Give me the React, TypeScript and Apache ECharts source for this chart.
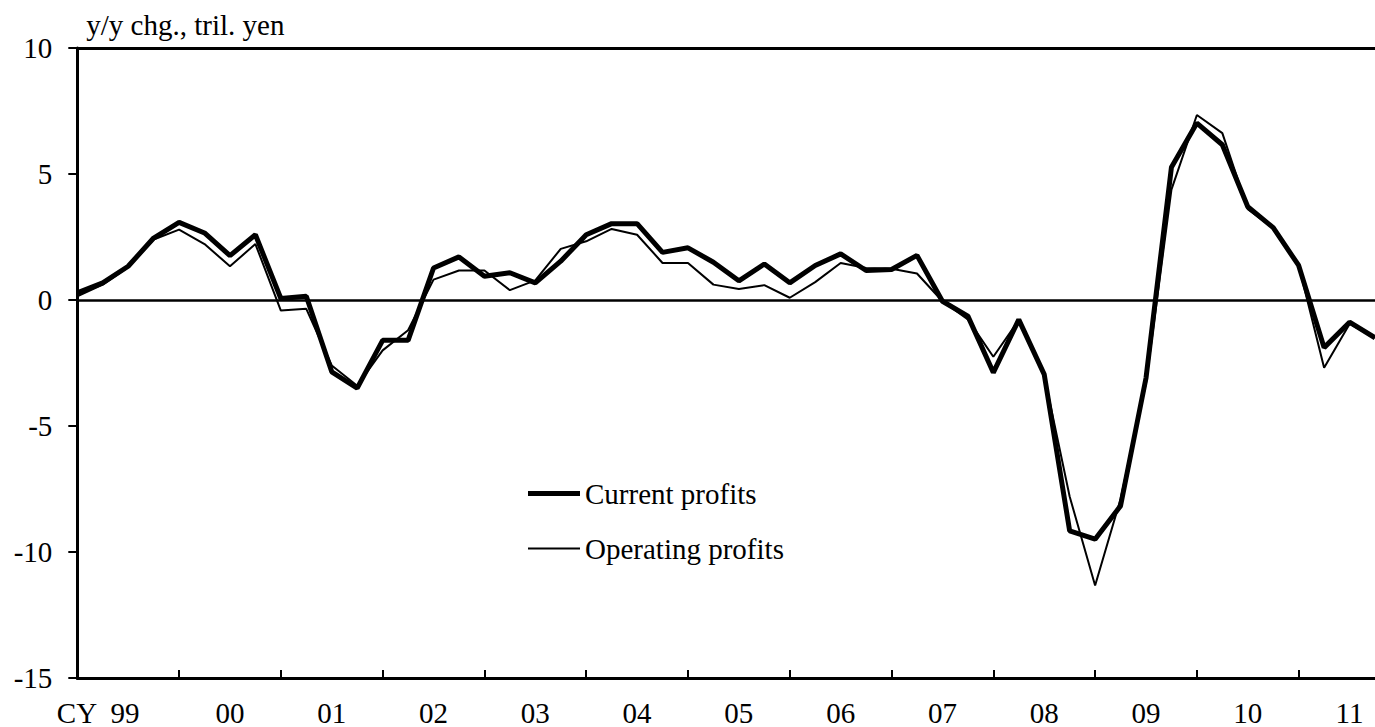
import React, { useEffect, useRef } from "react";
import * as echarts from "echarts";

const years = ["99", "00", "01", "02", "03", "04", "05", "06", "07", "08", "09", "10", "11"];
const yearLabels = ["CY  99", "00", "01", "02", "03", "04", "05", "06", "07", "08", "09", "10", "11"];
const quarters = ["Q1", "Q2", "Q3", "Q4"];

const currentProfits = [
  0.28, 0.68, 1.34, 2.46, 3.08, 2.66, 1.76, 2.59, 0.06, 0.15, -2.85, -3.5, -1.6, -1.6,
  1.27, 1.71, 0.94, 1.08, 0.68, 1.54, 2.59, 3.03, 3.03, 1.89, 2.07, 1.5, 0.76, 1.43,
  0.68, 1.37, 1.83, 1.17, 1.21, 1.77, -0.05, -0.64, -2.88, -0.78, -2.95, -9.16, -9.49,
  -8.17, -3.1, 5.27, 7.02, 6.16, 3.7, 2.87, 1.37, -1.89, -0.88, -1.5,
];
const operatingProfits = [
  0.15, 0.61, 1.3, 2.4, 2.79, 2.22, 1.34, 2.22, -0.42, -0.35, -2.6, -3.4, -2.0, -1.2,
  0.81, 1.17, 1.17, 0.39, 0.78, 2.03, 2.33, 2.82, 2.59, 1.47, 1.47, 0.61, 0.44, 0.59,
  0.09, 0.71, 1.47, 1.27, 1.24, 1.05, -0.05, -0.77, -2.25, -0.8, -3.0, -7.8, -11.33,
  -7.9, -3.3, 4.38, 7.34, 6.62, 3.6, 2.85, 1.37, -2.69, -0.95, -1.5,
];

const categories: string[] = [];
years.forEach((y) => quarters.forEach((q) => categories.push(y + q)));
const cats = categories.slice(0, currentProfits.length);

const FONT = "Liberation Serif";
const FS = 29;

// legend icons: a horizontal bar in a 52x14 box (tiny corner specks fix the bounding box)
const iconPath = (thick: number) => {
  const y0 = 7 - thick / 2;
  const y1 = 7 + thick / 2;
  return (
    "path://M0,0 L0.01,0 L0.01,0.01 Z " +
    `M0,${y0} L52,${y0} L52,${y1} L0,${y1} Z ` +
    "M51.99,14 L52,14 L52,13.99 Z"
  );
};

export default function App() {
  const ref = useRef<HTMLDivElement>(null);
  useEffect(() => {
    if (!ref.current) return;
    const chart = echarts.init(ref.current, null, { renderer: "svg" });
    chart.setOption({
      animation: false,
      backgroundColor: "#fff",
      textStyle: { fontFamily: FONT, color: "#000" },
      grid: { left: 77.3, top: 48, right: -10, bottom: 47.7, containLabel: false },
      legend: {
        orient: "vertical",
        left: 523,
        top: 474,
        itemWidth: 52,
        itemHeight: 14,
        itemGap: 26,
        itemStyle: { color: "#000", borderWidth: 0 },
        textStyle: { fontFamily: FONT, fontSize: FS, color: "#000", lineHeight: 29 },
        data: [
          { name: "Current profits", icon: iconPath(5) },
          { name: "Operating profits", icon: iconPath(2) },
        ],
      },
      xAxis: [
        {
          type: "category",
          data: cats,
          boundaryGap: false,
          position: "bottom",
          axisLine: { show: true, onZero: false, lineStyle: { color: "#000", width: 3 } },
          axisTick: {
            show: true,
            inside: true,
            length: 8,
            interval: (i: number) => i % 4 === 0,
            lineStyle: { color: "#000", width: 2 },
          },
          axisLabel: {
            show: true,
            interval: (i: number) => i % 4 === 2,
            formatter: (_v: string, i: number) => {
              const idx = Math.floor(i / 4);
              return idx === 0 ? `{first|${yearLabels[0]}}` : yearLabels[idx];
            },
            rich: {
              first: { fontFamily: FONT, fontSize: FS, color: "#000", padding: [0, 60, 0, 0] },
            },
            fontFamily: FONT,
            fontSize: FS,
            color: "#000",
            margin: 20,
          },
          splitLine: { show: false },
        },
        {
          type: "category",
          data: cats,
          boundaryGap: false,
          position: "top",
          axisLine: { show: true, onZero: false, lineStyle: { color: "#000", width: 3 } },
          axisTick: { show: false },
          axisLabel: { show: false },
          splitLine: { show: false },
        },
      ],
      yAxis: {
        type: "value",
        min: -15,
        max: 10,
        interval: 5,
        name: "y/y chg., tril. yen",
        nameLocation: "end",
        nameGap: 9,
        nameTextStyle: {
          fontFamily: FONT,
          fontSize: FS,
          color: "#000",
          align: "left",
          verticalAlign: "bottom",
          padding: [0, 0, 0, 9],
        },
        axisLine: { show: true, onZero: false, lineStyle: { color: "#000", width: 3 } },
        axisTick: { show: true, inside: false, length: 9, lineStyle: { color: "#000", width: 2 } },
        axisLabel: { fontFamily: FONT, fontSize: FS, color: "#000", margin: 25 },
        splitLine: { show: false },
      },
      series: [
        {
          name: "Current profits",
          type: "line",
          data: currentProfits,
          symbol: "none",
          lineStyle: { color: "#000", width: 5 },
          itemStyle: { color: "#000" },
          markLine: {
            silent: true,
            symbol: "none",
            label: { show: false },
            lineStyle: { color: "#000", width: 2.5, type: "solid" },
            data: [{ yAxis: 0 }],
          },
          z: 3,
        },
        {
          name: "Operating profits",
          type: "line",
          data: operatingProfits,
          symbol: "none",
          lineStyle: { color: "#000", width: 2 },
          itemStyle: { color: "#000" },
          z: 4,
        },
      ],
    });
    return () => chart.dispose();
  }, []);
  return (
    <div
      ref={ref}
      style={{ position: "fixed", left: 0, top: 0, width: 1375, height: 727, background: "#fff" }}
    />
  );
}
